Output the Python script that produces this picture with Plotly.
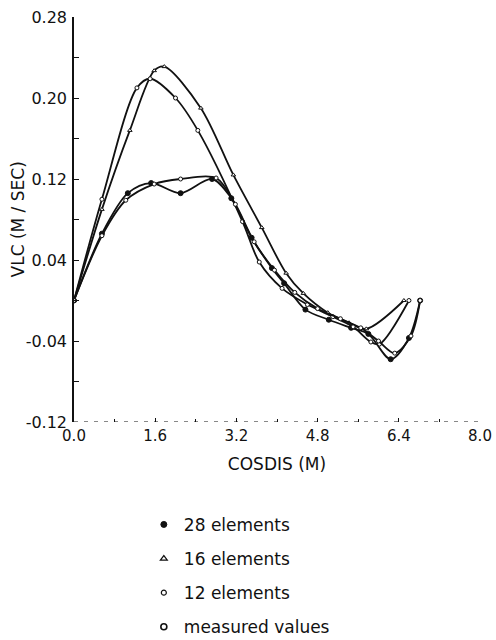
import plotly.graph_objects as go

# ---- data ----
x_28 = [0.0, 0.55, 1.06, 1.52, 2.10, 2.72, 3.10, 3.50, 3.90, 4.14, 4.56, 5.02, 5.46, 5.80, 6.24, 6.60, 6.82]
y_28 = [0.0, 0.066, 0.106, 0.116, 0.106, 0.120, 0.101, 0.062, 0.032, 0.017, -0.009, -0.019, -0.027, -0.033, -0.058, -0.037, 0.0]

x_16 = [0.0, 0.55, 1.10, 1.58, 1.78, 2.50, 3.14, 3.70, 4.18, 4.52, 5.00, 5.42, 5.76, 6.50]
y_16 = [0.0, 0.090, 0.168, 0.227, 0.231, 0.190, 0.124, 0.072, 0.027, 0.007, -0.012, -0.022, -0.028, 0.0]

x_12 = [0.0, 0.55, 1.24, 1.50, 2.00, 2.44, 3.32, 3.65, 4.10, 4.60, 5.10, 5.50, 5.85, 6.02, 6.60]
y_12 = [0.0, 0.100, 0.210, 0.219, 0.200, 0.168, 0.078, 0.038, 0.012, -0.004, -0.016, -0.026, -0.041, -0.043, 0.0]

x_meas = [0.0, 0.55, 1.02, 1.58, 2.10, 2.80, 3.18, 3.55, 3.95, 4.35, 4.80, 5.25, 5.65, 6.00, 6.32, 6.64, 6.82]
y_meas = [0.0, 0.064, 0.099, 0.115, 0.120, 0.121, 0.095, 0.058, 0.030, 0.008, -0.008, -0.018, -0.027, -0.040, -0.052, -0.035, 0.0]

series_names = ["28 elements", "16 elements", "12 elements", "measured values"]

x_tick_vals = [0.0, 1.6, 3.2, 4.8, 6.4, 8.0]
x_tick_text = ["0.0", "1.6", "3.2", "4.8", "6.4", "8.0"]
y_tick_vals = [0.28, 0.20, 0.12, 0.04, -0.04, -0.12]
y_tick_text = ["0.28", "0.20", "0.12", "0.04", "-0.04", "-0.12"]

FONT = "DejaVu Sans"
INK = "#111111"

fig = go.Figure()

plot_markers = [
    dict(symbol="circle", size=5, color=INK, line=dict(color=INK, width=1)),
    dict(symbol="triangle-up", size=4, color="white", line=dict(color=INK, width=1)),
    dict(symbol="circle", size=4, color="white", line=dict(color=INK, width=1)),
    dict(symbol="circle", size=4, color="white", line=dict(color=INK, width=1)),
]
key_markers = [
    dict(symbol="circle", size=6, color=INK, line=dict(color=INK, width=1)),
    dict(symbol="triangle-up", size=6, color="white", line=dict(color=INK, width=1.2)),
    dict(symbol="circle", size=5, color="white", line=dict(color=INK, width=1.2)),
    dict(symbol="circle", size=6, color="white", line=dict(color=INK, width=1.6)),
]
xs_all = [x_28, x_16, x_12, x_meas]
ys_all = [y_28, y_16, y_12, y_meas]

for xs, ys, mk, name in zip(xs_all, ys_all, plot_markers, series_names):
    fig.add_trace(go.Scatter(
        x=xs, y=ys, mode="lines+markers", name=name, showlegend=False,
        line=dict(color=INK, width=1.8, shape="spline", smoothing=0.9),
        marker=mk,
    ))

# legend-only entries (marker symbols as in the reference key)
for mk, name in zip(key_markers, series_names):
    fig.add_trace(go.Scatter(
        x=[None], y=[None], mode="markers", name=name, legendgroup=name,
        marker=mk,
    ))

# broken baseline of the x axis
fig.add_shape(type="line", xref="x", yref="y", x0=0, x1=8, y0=-0.12, y1=-0.12,
              line=dict(color=INK, width=1, dash="4px,6px"))

fig.update_layout(
    width=496, height=640,
    margin=dict(l=74, r=16, t=17, b=218, autoexpand=False),
    paper_bgcolor="white", plot_bgcolor="white",
    font=dict(family=FONT, size=16, color=INK),
    showlegend=True,
    legend=dict(
        xref="container", yref="container",
        x=0.29, y=0.208, xanchor="left", yanchor="top",
        font=dict(family=FONT, size=17, color=INK),
        tracegroupgap=9, bgcolor="rgba(0,0,0,0)",
    ),
    xaxis=dict(
        range=[0, 8], tickvals=x_tick_vals, ticktext=x_tick_text,
        showgrid=False, zeroline=False, showline=False,
        ticks="inside", ticklen=4, tickcolor=INK,
        minor=dict(dtick=0.8, tick0=0, ticks="inside", ticklen=3, tickcolor=INK),
        tickfont=dict(family=FONT, size=15, color=INK),
        ticklabelstandoff=3, ticklabeloverflow="allow",
        title=dict(text="COSDIS (M)", font=dict(family=FONT, size=17, color=INK), standoff=14),
        automargin=False,
    ),
    yaxis=dict(
        range=[-0.12, 0.28], tickvals=y_tick_vals, ticktext=y_tick_text,
        showgrid=False, zeroline=False, showline=True, linecolor=INK, linewidth=1.5,
        ticks="inside", ticklen=5, tickcolor=INK,
        minor=dict(dtick=0.04, tick0=-0.12, ticks="inside", ticklen=5, tickcolor=INK),
        tickfont=dict(family=FONT, size=16, color=INK),
        ticklabelstandoff=2, ticklabeloverflow="allow",
        automargin=False,
    ),
    annotations=[dict(
        text="VLC (M / SEC)", textangle=-90, xref="paper", yref="paper",
        x=-0.138, y=0.5, xanchor="center", yanchor="middle", showarrow=False,
        font=dict(family=FONT, size=17, color=INK),
    )],
)

# remove the browser's default page margin so the 496x640 figure fills the window
fig.write_html(
    "out.html",
    config={"displayModeBar": False},
    post_script="document.body.style.margin='0';"
                "document.documentElement.style.overflow='hidden';"
                "document.body.style.overflow='hidden';",
)
